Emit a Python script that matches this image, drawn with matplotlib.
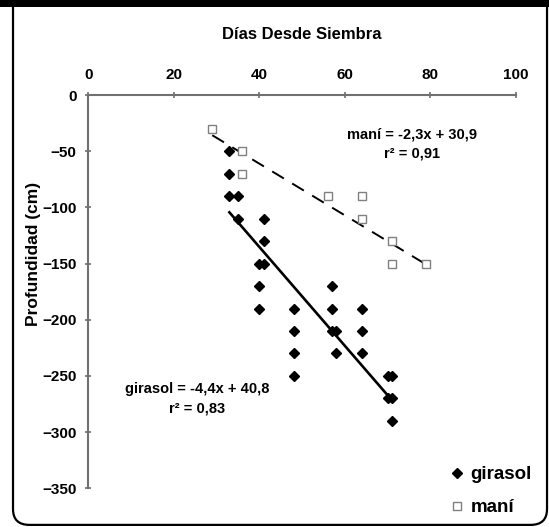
import matplotlib
matplotlib.use("Agg")
import matplotlib.pyplot as plt
from matplotlib.patches import FancyBboxPatch, Rectangle

plt.rcParams['font.family'] = ['Liberation Sans', 'DejaVu Sans']
plt.rcParams['font.weight'] = 'bold'

# girasol (sunflower) root depth vs days after sowing
girasol_dias = [33, 33, 33, 35, 35, 41, 41, 40, 41, 40, 40, 48, 48, 48, 48,
                57, 57, 57, 58, 58, 64, 64, 64, 70, 71, 70, 71, 71]
girasol_prof = [-50, -70, -90, -90, -110, -110, -130, -150, -150, -170, -190,
                -190, -210, -230, -250, -170, -190, -210, -210, -230,
                -190, -210, -230, -250, -250, -270, -270, -290]

# maní (peanut)
mani_dias = [29, 36, 36, 56, 64, 64, 71, 71, 79]
mani_prof = [-30, -50, -70, -90, -90, -110, -130, -150, -150]

# regression lines as printed on the chart
girasol_pend, girasol_ord = -4.4, 40.8
mani_pend, mani_ord = -2.3, 30.9

fig = plt.figure(figsize=(5.49, 5.27), dpi=100)

# rounded border + black band on top
fig.patches.append(FancyBboxPatch((0.0237, 0.004), 0.9727, 1.05,
                                  boxstyle="round,pad=0,rounding_size=0.03",
                                  transform=fig.transFigure, fill=False,
                                  edgecolor='black', linewidth=1.6))
fig.patches.append(Rectangle((0, 1 - 7 / 527), 1, 0.03, transform=fig.transFigure,
                             facecolor='black', edgecolor='none'))

ax = fig.add_axes([0.1608, 0.0734, 0.7790, 0.7463])

gx = [min(girasol_dias), max(girasol_dias)]
mx = [min(mani_dias), max(mani_dias)]
ax.plot(gx, [girasol_pend * v + girasol_ord for v in gx], color='black', lw=1.9)
ax.plot(mx, [mani_pend * v + mani_ord for v in mx], color='black', lw=1.4,
        dashes=(7, 5))

ax.plot(girasol_dias, girasol_prof, linestyle='none', marker='D', ms=5.6,
        color='black', label='girasol', clip_on=False)
ax.plot(mani_dias, mani_prof, linestyle='none', marker='s', ms=5.8,
        markerfacecolor='white', markeredgecolor='#808080', markeredgewidth=1.0,
        label='maní', clip_on=False)

ax.set_xlim(0, 100)
ax.set_ylim(-350, 0)
ax.set_xticks(range(0, 101, 20))
ax.set_yticks(range(-350, 1, 50))
ax.xaxis.tick_top()
ax.xaxis.set_label_position('top')
for s in ['right', 'bottom']:
    ax.spines[s].set_visible(False)
for s in ['top', 'left']:
    ax.spines[s].set_color('#707070')
    ax.spines[s].set_linewidth(1.5)
ax.tick_params(axis='both', direction='inout', length=5, width=1.2,
               color='#707070', labelsize=11)
ax.tick_params(axis='x', pad=7)
ax.tick_params(axis='y', pad=6)

ax.set_xlabel('Días Desde Siembra', fontsize=12, fontweight='bold', labelpad=21)
ax.set_ylabel('Profundidad (cm)', fontsize=12.5, fontweight='bold')
ax.yaxis.set_label_coords(-0.11, 0.596)

ax.text(0.758, 0.875, 'maní = -2,3x + 30,9\nr² = 0,91', transform=ax.transAxes,
        ha='center', va='center', fontsize=10.5, fontweight='bold',
        linespacing=1.5)
ax.text(0.255, 0.227, 'girasol = -4,4x + 40,8\nr² = 0,83', transform=ax.transAxes,
        ha='center', va='center', fontsize=10.5, fontweight='bold',
        linespacing=1.5)

ax.legend(loc='lower right', bbox_to_anchor=(1.055, -0.09), frameon=False,
          fontsize=13.5, handlelength=0.6, handletextpad=0.4, labelspacing=0.85,
          borderaxespad=0)

fig.savefig('out.png', dpi=100)
